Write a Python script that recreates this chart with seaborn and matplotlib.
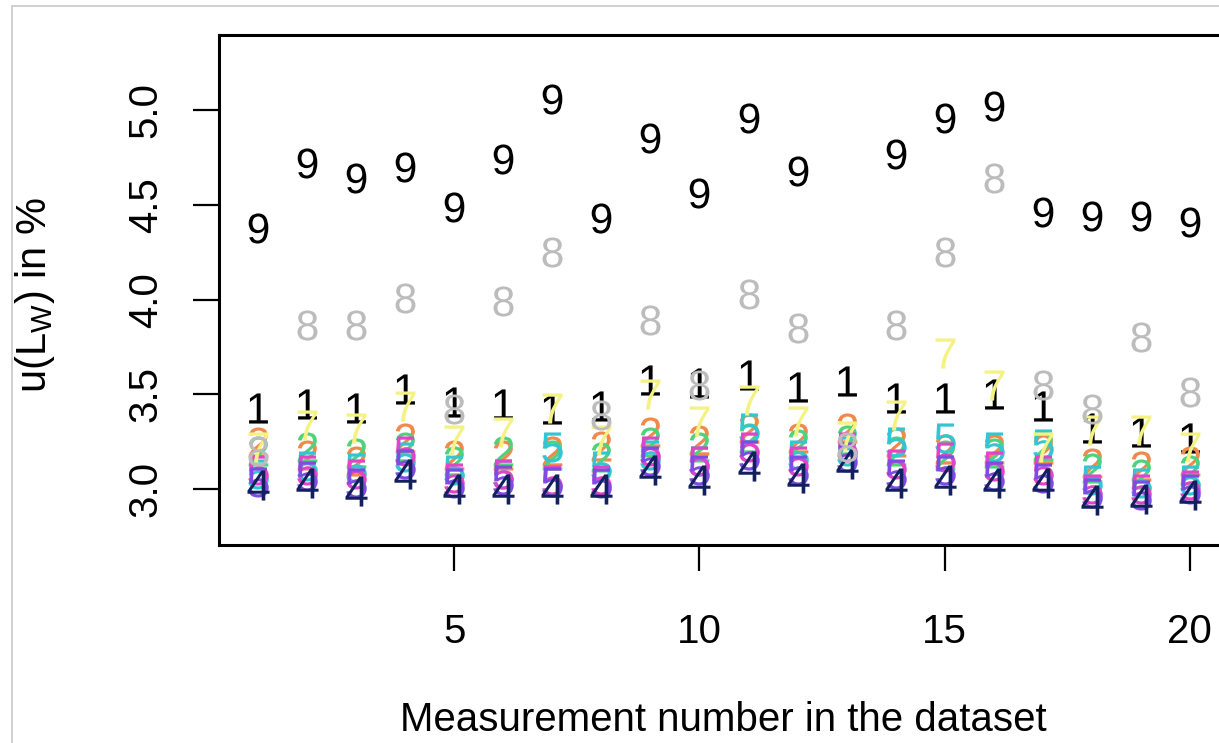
import numpy as np
import pandas as pd
import matplotlib
matplotlib.use("Agg")
import matplotlib.pyplot as plt
from matplotlib.patches import Rectangle
import seaborn as sns

# Measurement index
measurement = list(range(1, 21))

# Uncertainty u(L_W) in % per measurement, one list per series (drawn as digit symbols)
s1_black = [3.43, 3.45, 3.43, 3.53, 3.46, 3.45, 3.42, 3.44, 3.575, 3.56,
            3.60, 3.54, 3.57, 3.48, 3.48, 3.50, 3.44, 3.32, 3.30, 3.27]
s2_orange = [3.25, 3.18, 3.15, 3.27, 3.18, 3.18, 3.20, 3.23, 3.30, 3.26,
             3.32, 3.27, 3.32, 3.25, 3.21, 3.21, 3.21, 3.14, 3.12, 3.15]
s2_green = [3.20, 3.22, 3.19, 3.22, 3.15, 3.20, 3.18, 3.17, 3.25, 3.22,
            3.27, 3.24, 3.26, 3.20, 3.18, 3.19, 3.23, 3.11, 3.08, 3.10]
s5_cyan = [3.08, 3.12, 3.11, 3.17, 3.10, 3.08, 3.22, 3.12, 3.18, 3.15,
           3.32, 3.18, 3.20, 3.25, 3.27, 3.22, 3.24, 3.05, 3.03, 3.05]
s5_magenta = [3.10, 3.10, 3.08, 3.20, 3.06, 3.08, 3.05, 3.05, 3.20, 3.15,
              3.22, 3.15, 3.22, 3.13, 3.17, 3.12, 3.10, 3.00, 3.00, 3.02]
s5_violet = [3.04, 3.07, 3.03, 3.13, 3.03, 3.05, 3.04, 3.03, 3.15, 3.10,
             3.18, 3.10, 3.17, 3.08, 3.10, 3.07, 3.06, 2.98, 2.97, 3.00]
s4_navy = [3.02, 3.03, 2.99, 3.08, 3.00, 3.00, 3.00, 3.00, 3.10, 3.05,
           3.12, 3.06, 3.13, 3.03, 3.05, 3.03, 3.03, 2.94, 2.95, 2.97]
s7_yellow = [3.22, 3.34, 3.32, 3.44, 3.26, 3.30, 3.43, 3.26, 3.50, 3.36,
             3.47, 3.36, 3.28, 3.39, 3.72, 3.55, 3.22, 3.31, 3.31, 3.22]
s8_gray = [3.20, 3.865, 3.865, 4.01, 3.42, 3.99, 4.25, 3.39, 3.89, 3.55,
           4.03, 3.85, 3.22, 3.865, 4.25, 4.64, 3.55, 3.42, 3.80, 3.51]
s9_black = [4.377, 4.72, 4.64, 4.70, 4.49, 4.74, 5.06, 4.43, 4.85, 4.56,
            4.96, 4.68, np.nan, 4.77, 4.96, 5.02, 4.46, 4.44, 4.44, 4.41]

# Series in drawing order: (symbol, colour, values)
series = [
    ("1", "#000000", s1_black),
    ("2", "#f08a4a", s2_orange),
    ("2", "#4fd27a", s2_green),
    ("5", "#33c6d2", s5_cyan),
    ("5", "#e044c8", s5_magenta),
    ("5", "#7f4be3", s5_violet),
    ("4", "#13205e", s4_navy),
    ("7", "#f5f284", s7_yellow),
    ("8", "#bcbcbc", s8_gray),
    ("9", "#000000", s9_black),
]

sns.set_theme(style="white")
plt.rcParams["font.family"] = ["Liberation Sans", "DejaVu Sans"]
plt.rcParams["mathtext.fontset"] = "custom"
plt.rcParams["mathtext.rm"] = "Liberation Sans"
plt.rcParams["mathtext.it"] = "Liberation Sans"
plt.rcParams["mathtext.bf"] = "Liberation Sans"

W, H = 1219, 743
fig = plt.figure(figsize=(W / 100, H / 100), dpi=100)
fig.patch.set_facecolor("white")

# thin light frame around the figure
fig.patches.append(Rectangle((12 / W, -0.05), 1.2, 1 - 6 / H + 0.05,
                             transform=fig.transFigure, fill=False,
                             edgecolor="#c8c8c8", linewidth=1.2, zorder=0))

left, right, top, bottom = 219, 1229, 35, 545
ax = fig.add_axes([left / W, 1 - bottom / H, (right - left) / W, (bottom - top) / H])

frames = []
for i, (sym, col, vals) in enumerate(series):
    frames.append(pd.DataFrame({"measurement": measurement, "u": vals,
                                "series": i, "symbol": sym, "color": col}))
df = pd.concat(frames, ignore_index=True)

for i, (sym, col, vals) in enumerate(series):
    sub = df[df["series"] == i]
    sns.scatterplot(data=sub, x="measurement", y="u", marker=f"${sym}$",
                    s=470, color=col, linewidth=0, ax=ax, legend=False,
                    zorder=3 + i, clip_on=False)

ax.set_xlim(0.2, 20.8)
ax.set_ylim(2.705, 5.396)

ax.set_xticks([5, 10, 15, 20])
ax.set_xticklabels(["5", "10", "15", "20"])
ax.set_yticks([3.0, 3.5, 4.0, 4.5, 5.0])
ax.set_yticklabels(["3.0", "3.5", "4.0", "4.5", "5.0"], rotation=90, va="center")

ax.tick_params(axis="both", which="major", direction="out", length=19,
               width=1.6, color="black", labelsize=29, labelcolor="black",
               bottom=True, left=True)
ax.tick_params(axis="y", pad=20)
ax.tick_params(axis="x", pad=30)

for sp in ax.spines.values():
    sp.set_visible(True)
    sp.set_color("black")
    sp.set_linewidth(2.2)

ax.set_xlabel("Measurement number in the dataset", fontsize=29, color="black")
ax.set_ylabel(r"u(L$_{\mathregular{W}}$) in %", fontsize=30, color="black")
ax.xaxis.set_label_coords((723 - left) / (right - left), (bottom - 720) / (bottom - top))
ax.yaxis.set_label_coords((35 - left) / (right - left), 0.49)
ax.xaxis.label.set_va("center")
ax.yaxis.label.set_va("center")

fig.savefig("out.png", dpi=100, facecolor="white")
